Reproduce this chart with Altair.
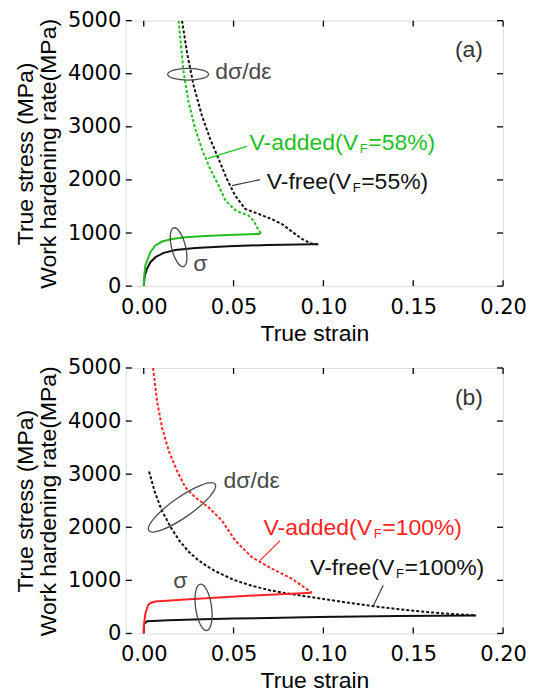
import altair as alt
import pandas as pd

# ---------------- data ----------------
x_ticks = [0.0, 0.05, 0.10, 0.15, 0.20]
y_ticks = [0, 1000, 2000, 3000, 4000, 5000]

# Panel (a)
a_added_sig_x = [0, 0.0003, 0.0009, 0.0037, 0.0065, 0.0102, 0.0157, 0.0232, 0.0343, 0.0472, 0.0639, 0.0652]
a_added_sig_y = [0, 200, 389, 639, 765, 840, 889, 921, 946, 965, 983, 995]
a_free_sig_x = [0, 0.0006, 0.0018, 0.0037, 0.0065, 0.0111, 0.0176, 0.0287, 0.0472, 0.0694, 0.0935, 0.0972]
a_free_sig_y = [0, 200, 325, 451, 545, 626, 682, 720, 752, 776, 789, 790]
a_added_dsig_x = [0.0194, 0.0222, 0.025, 0.0287, 0.0324, 0.037, 0.0417, 0.0454, 0.05, 0.0528, 0.0583, 0.0611, 0.063, 0.0652]
a_added_dsig_y = [5000, 4023, 3459, 2957, 2581, 2205, 1893, 1620, 1453, 1400, 1329, 1235, 1109, 995]
a_free_dsig_x = [0.0213, 0.0241, 0.0278, 0.0324, 0.037, 0.0417, 0.0463, 0.0509, 0.0565, 0.0639, 0.0713, 0.0769, 0.0824, 0.088, 0.0935, 0.0965]
a_free_dsig_y = [5000, 4398, 3773, 3209, 2769, 2393, 2017, 1705, 1453, 1360, 1260, 1170, 1030, 890, 800, 790]

# Panel (b)
b_added_sig_x = [0, 0.0001, 0.0009, 0.0024, 0.0037, 0.0065, 0.0232, 0.0417, 0.0602, 0.0787, 0.0935]
b_added_sig_y = [0, 156, 375, 531, 574, 600, 638, 675, 713, 743, 765]
b_free_sig_x = [0, 0.0001, 0.0018, 0.0139, 0.0324, 0.0509, 0.0694, 0.0972, 0.1417, 0.185]
b_free_sig_y = [0, 170, 231, 250, 268, 281, 293, 311, 330, 340]
b_added_dsig_x = [0.0052, 0.0074, 0.0102, 0.0139, 0.0185, 0.0232, 0.0287, 0.0361, 0.0435, 0.0509, 0.0602, 0.0713, 0.0824, 0.0935]
b_added_dsig_y = [5000, 4377, 3876, 3439, 3064, 2750, 2563, 2375, 2126, 1750, 1437, 1220, 1032, 770]
b_free_dsig_x = [0.003, 0.006, 0.01, 0.015, 0.02, 0.025, 0.03, 0.035, 0.04, 0.05, 0.06, 0.07, 0.08, 0.09,
                 0.10, 0.11, 0.12, 0.13, 0.14, 0.15, 0.16, 0.17, 0.185]
b_free_dsig_y = [3050, 2680, 2320, 2000, 1740, 1540, 1390, 1270, 1170, 1010, 900, 815, 752, 700,
                 648, 598, 550, 505, 464, 428, 397, 370, 340]

# annotation anchors (data coordinates)
a_label_xy = {"panel": (0.181, 4450), "dsig": (0.0398, 4023), "sig": (0.0315, 419),
              "added": (0.0589, 2694), "free": (0.0685, 1955)}
a_ell_dsig = (0.0247, 3990)
a_ell_sig = (0.0194, 733)
a_lead_added = [(0.0357, 2406), (0.0574, 2632)]
a_lead_free = [(0.0491, 1893), (0.0648, 2005)]

b_label_xy = {"panel": (0.181, 4440), "dsig": (0.0444, 2876), "sig": (0.0204, 987),
              "added": (0.0667, 1994), "free": (0.0926, 1225)}
b_ell_dsig = (0.0213, 2375)
b_ell_sig = (0.0333, 493)
b_lead_added = [(0.0648, 1375), (0.0759, 1750)]
b_lead_free = [(0.1278, 520), (0.1333, 906)]

# ---------------- styling ----------------
W, H = 378, 266
XDOM = [-0.01, 0.2]
YDOM = [0, 5000]
TXT_FONT = "Liberation Sans"
LBL_FONT = "DejaVu Sans"
GRAY = "#4a4a4a"
GREEN = "#1fbf1f"
RED = "#ff2424"
BLACK = "#111111"

xs = alt.Scale(domain=XDOM, nice=False, zero=False)
ys = alt.Scale(domain=YDOM, nice=False)


def ellipse_path(r):
    k = 0.5523
    return (f"M-1,0C-1,{-k*r:.4f},{-k:.4f},{-r:.4f},0,{-r:.4f}"
            f"C{k:.4f},{-r:.4f},1,{-k*r:.4f},1,0"
            f"C1,{k*r:.4f},{k:.4f},{r:.4f},0,{r:.4f}"
            f"C{-k:.4f},{r:.4f},-1,{k*r:.4f},-1,0Z")


def curve(xv, yv, color, dashed):
    df = pd.DataFrame({"x": xv, "y": yv, "i": range(len(xv))})
    kw = dict(color=color, strokeWidth=2, clip=True)
    if dashed:
        kw["strokeDash"] = [3, 2]
    return alt.Chart(df).mark_line(**kw).encode(
        x=alt.X("x:Q", scale=xs), y=alt.Y("y:Q", scale=ys), order="i:Q")


def text(xy, s, color, size=23, align="left", dx=0, dy=0):
    df = pd.DataFrame({"x": [xy[0]], "y": [xy[1]], "t": [s]})
    return alt.Chart(df).mark_text(align=align, baseline="middle", font=TXT_FONT,
                                   fontSize=size, color=color, dx=dx, dy=dy).encode(
        x=alt.X("x:Q", scale=xs), y=alt.Y("y:Q", scale=ys), text="t:N")


def sub_label(xy, pre, post, color, w_pre):
    return [text(xy, pre, color),
            text(xy, "F", color, size=13, dx=w_pre + 0.5, dy=6),
            text(xy, post, color, dx=w_pre + 9)]


def ellipse(xy, r, size, angle):
    df = pd.DataFrame({"x": [xy[0]], "y": [xy[1]]})
    return alt.Chart(df).mark_point(shape=ellipse_path(r), size=size, angle=angle,
                                    filled=False, stroke=GRAY, strokeWidth=1.3, opacity=1).encode(
        x=alt.X("x:Q", scale=xs), y=alt.Y("y:Q", scale=ys))


def leader(pts, color):
    df = pd.DataFrame({"x": [pts[0][0]], "y": [pts[0][1]], "x2": [pts[1][0]], "y2": [pts[1][1]]})
    return alt.Chart(df).mark_rule(color=color, strokeWidth=1.1).encode(
        x=alt.X("x:Q", scale=xs), y=alt.Y("y:Q", scale=ys), x2="x2:Q", y2="y2:Q")


def frame_ticks():
    tx = pd.DataFrame({"x": x_ticks})
    ty = pd.DataFrame({"y": y_ticks})
    base = dict(color="black", strokeWidth=1.3)
    bottom = alt.Chart(tx).mark_rule(**base).encode(
        x=alt.X("x:Q", scale=xs,
                axis=alt.Axis(values=x_ticks, format=".2f", title="True strain", ticks=False,
                              tickSize=0, domain=False, grid=False, labelFlush=False,
                              labelOverlap=False, labelFont=LBL_FONT, labelFontSize=21,
                              labelColor="black", labelPadding=10, titleFont=TXT_FONT,
                              titleFontSize=23, titleFontWeight="normal", titleColor="black",
                              titlePadding=5)),
        y=alt.value(H), y2=alt.value(H - 6))
    top = alt.Chart(tx).mark_rule(**base).encode(
        x=alt.X("x:Q", scale=xs), y=alt.value(0), y2=alt.value(6))
    left = alt.Chart(ty).mark_rule(**base).encode(
        y=alt.Y("y:Q", scale=ys,
                axis=alt.Axis(values=y_ticks, format="d",
                              title=["True stress (MPa)", "Work hardening rate(MPa)"],
                              ticks=False, tickSize=0, domain=False, grid=False,
                              labelFlush=False, labelOverlap=False, labelFont=LBL_FONT,
                              labelFontSize=21, labelColor="black", labelPadding=5,
                              titleFont=TXT_FONT, titleFontSize=23, titleFontWeight="normal",
                              titleColor="black", titlePadding=7, titleLineHeight=23)),
        x=alt.value(0), x2=alt.value(6))
    right = alt.Chart(ty).mark_rule(**base).encode(
        y=alt.Y("y:Q", scale=ys), x=alt.value(W), x2=alt.value(W - 6))
    return [bottom, top, left, right]


def panel(tag, col, lab, ell_d, ell_s, lead_add, lead_free,
          add_sig, free_sig, add_dsig, free_dsig, added_post, free_post, ell_specs):
    layers = frame_ticks()
    layers += [curve(*free_dsig, BLACK, True), curve(*add_dsig, col, True),
               curve(*free_sig, BLACK, False), curve(*add_sig, col, False)]
    layers += [ellipse(ell_d, *ell_specs[0]), ellipse(ell_s, *ell_specs[1])]
    layers += [leader(lead_add, col), leader(lead_free, "#333333")]
    layers += [text(lab["panel"], tag, "#333333", align="center"),
               text(lab["dsig"], "dσ/dε", GRAY),
               text(lab["sig"], "σ", GRAY, align="center")]
    layers += sub_label(lab["added"], "V-added(V", added_post, col, 109.9)
    layers += sub_label(lab["free"], "V-free(V", free_post, BLACK, 85.6)
    return alt.layer(*layers).properties(width=W, height=H)


pa = panel("(a)", GREEN, a_label_xy, a_ell_dsig, a_ell_sig, a_lead_added, a_lead_free,
           (a_added_sig_x, a_added_sig_y), (a_free_sig_x, a_free_sig_y),
           (a_added_dsig_x, a_added_dsig_y), (a_free_dsig_x, a_free_dsig_y),
           "=58%)", "=55%)",
           [(0.29, 1681, 0), (0.35, 1600, 76)])
pb = panel("(b)", RED, b_label_xy, b_ell_dsig, b_ell_sig, b_lead_added, b_lead_free,
           (b_added_sig_x, b_added_sig_y), (b_free_sig_x, b_free_sig_y),
           (b_added_dsig_x, b_added_dsig_y), (b_free_dsig_x, b_free_dsig_y),
           "=100%)", "=100%)",
           [(0.25, 6561, 325), (0.34, 2209, 82)])

chart = alt.vconcat(pa, pb, spacing=10).properties(
    padding={"top": 0, "left": 6, "right": 5, "bottom": 0}
).configure_view(stroke="black", strokeWidth=1.6).configure(background="white")

chart.save("out.html", embed_options={"renderer": "svg", "actions": False})
